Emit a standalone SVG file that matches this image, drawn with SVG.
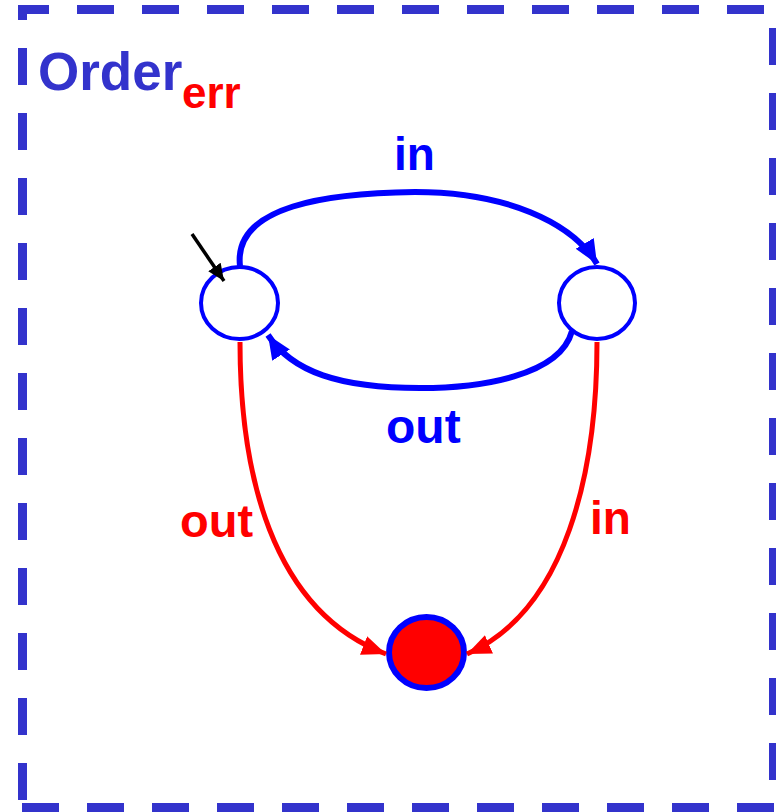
<svg xmlns="http://www.w3.org/2000/svg" width="776" height="812" viewBox="0 0 776 812">
<defs>
<style>
.border{stroke:#3333cc;stroke-width:9;fill:none;stroke-dasharray:37 28}
.lbl{font-family:"Liberation Sans",Arial,sans-serif;font-weight:bold}
.state{fill:#fff;stroke:#0000ff;stroke-width:4}
.blue{stroke:#0000ff;stroke-width:6;fill:none}
.red{stroke:#ff0000;stroke-width:5;fill:none}
</style>
<marker id="ab" markerUnits="userSpaceOnUse" markerWidth="26" markerHeight="22" refX="24" refY="10.5" orient="auto" viewBox="0 0 26 22">
<path d="M0,0 L24,10.5 L0,21 z" fill="#0000ff"/>
</marker>
<marker id="ar" markerUnits="userSpaceOnUse" markerWidth="26" markerHeight="22" refX="24" refY="10" orient="auto" viewBox="0 0 26 22">
<path d="M0,0 L24,10 L0,20 z" fill="#ff0000"/>
</marker>
<marker id="ak" markerUnits="userSpaceOnUse" markerWidth="20" markerHeight="16" refX="17" refY="7.5" orient="auto" viewBox="0 0 20 16">
<path d="M0,0 L17,7.5 L0,15 z" fill="#000"/>
</marker>
</defs>
<g id="frame">
<line class="border" x1="18" y1="9.5" x2="776" y2="9.5" stroke-dashoffset="6"/>
<line class="border" x1="22.5" y1="5" x2="22.5" y2="800" stroke-dashoffset="22"/>
<line class="border" x1="22" y1="807.5" x2="776" y2="807.5"/>
<line class="border" x1="773.5" y1="28" x2="773.5" y2="780"/>
<text class="lbl" x="38" y="90" font-size="53" fill="#3333cc">Order</text>
<text class="lbl" x="182" y="108" font-size="44" fill="#ff0000">err</text>
</g>
<g id="s0"><ellipse class="state" cx="239.5" cy="303" rx="38.5" ry="36"/></g>
<g id="s1"><ellipse class="state" cx="597" cy="303" rx="38" ry="36"/></g>
<g id="err"><ellipse cx="426.5" cy="652.5" rx="37.5" ry="35.5" fill="#ff0000" stroke="#0000ff" stroke-width="6"/></g>
<g id="connectors">
<line x1="192" y1="234" x2="224" y2="281" stroke="#000" stroke-width="3.5" marker-end="url(#ak)"/>
<path class="blue" d="M240,266 C233,205 330,193 415,192 C505,192 572,222 597,264" marker-end="url(#ab)"/>
<path class="blue" d="M572,331 C560,376 480,388 420,388 C340,388 292,372 268,335" marker-end="url(#ab)"/>
<path class="red" d="M240,342 C240,470 270,610 386,654" marker-end="url(#ar)"/>
<path class="red" d="M597,342 C597,470 567,610 467,654" marker-end="url(#ar)"/>
<text class="lbl" x="394" y="170" font-size="46" fill="#0000ff">in</text>
<text class="lbl" x="386" y="443" font-size="48" fill="#0000ff">out</text>
<text class="lbl" x="180" y="537" font-size="47" fill="#ff0000">out</text>
<text class="lbl" x="590" y="534" font-size="46" fill="#ff0000">in</text>
</g>
</svg>
